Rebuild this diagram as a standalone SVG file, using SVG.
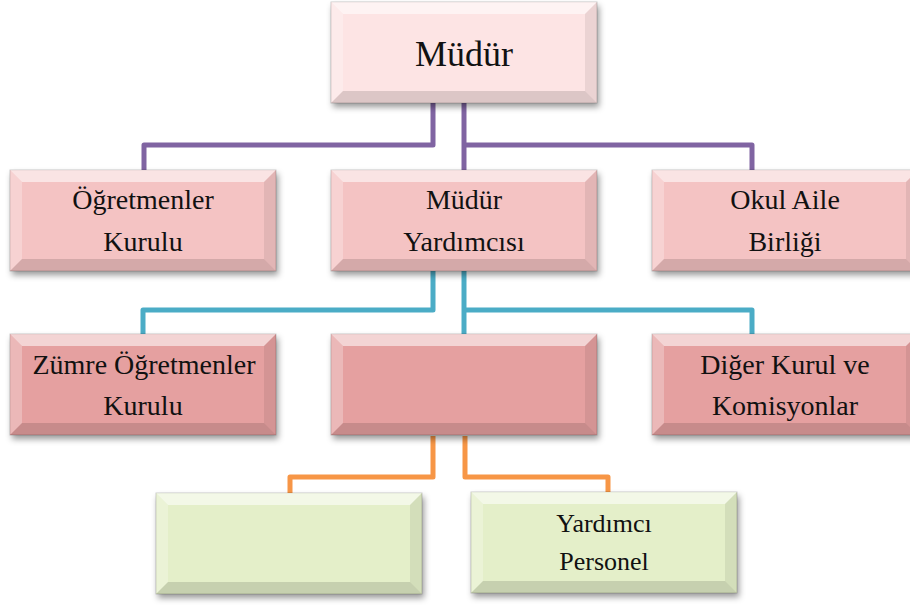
<svg xmlns="http://www.w3.org/2000/svg" xmlns:xlink="http://www.w3.org/1999/xlink" width="910" height="605" viewBox="0 0 910 605">
<style>
.lbl{font-family:"Liberation Serif","Times New Roman",serif;fill:#111;text-anchor:middle}
.big{font-size:36px}
.mid{font-size:28px}
.sm{font-size:26px}
.box{stroke:#000;stroke-opacity:0.18;stroke-width:1;filter:url(#sh)}
.c1{fill:#FDE4E4}.c2{fill:#F4C3C3}.c3{fill:#E5A0A0}.c4{fill:#E4EFC9}
.ln{fill:none;stroke-width:5;stroke-linejoin:round}
.pu{stroke:#8064A2}.te{stroke:#4BACC6}.or{stroke:#F79646}
</style>
<defs>
<filter id="sh" x="-10%" y="-10%" width="130%" height="140%">
<feDropShadow dx="2" dy="4" stdDeviation="3" flood-color="#000" flood-opacity="0.4"/>
</filter>
<g id="bevel">
<polygon points="0,0 266,0 254,12 12,12" fill="#fff" fill-opacity="0.55"/>
<polygon points="0,0 12,12 12,89 0,101" fill="#fff" fill-opacity="0.25"/>
<polygon points="266,0 266,101 254,89 254,12" fill="#000" fill-opacity="0.07"/>
<polygon points="0,101 12,89 254,89 266,101" fill="#000" fill-opacity="0.13"/>
</g>
</defs>
<g id="connectors">
<path class="ln pu" d="M433,103 V145 H144 V170"/>
<path class="ln pu" d="M464,103 V170"/>
<path class="ln pu" d="M464,145 H752 V170"/>
<path class="ln te" d="M433,271 V310 H143 V334"/>
<path class="ln te" d="M464,271 V334"/>
<path class="ln te" d="M464,310 H752 V334"/>
<path class="ln or" d="M433,436 V477 H290 V493"/>
<path class="ln or" d="M465,436 V477 H608 V492"/>
</g>
<g id="mudur">
<rect class="box c1" x="331" y="2" width="266" height="101"/>
<use xlink:href="#bevel" x="331" y="2"/>
<text class="lbl big" x="464" y="66">Müdür</text>
</g>
<g id="ogretmenler-kurulu">
<rect class="box c2" x="10" y="170" width="266" height="101"/>
<use xlink:href="#bevel" x="10" y="170"/>
<text class="lbl mid" x="143" y="209">Öğretmenler</text>
<text class="lbl mid" x="143" y="251">Kurulu</text>
</g>
<g id="mudur-yardimcisi">
<rect class="box c2" x="331" y="170" width="266" height="101"/>
<use xlink:href="#bevel" x="331" y="170"/>
<text class="lbl mid" x="464" y="209">Müdür</text>
<text class="lbl mid" x="464" y="251">Yardımcısı</text>
</g>
<g id="okul-aile">
<rect class="box c2" x="652" y="170" width="266" height="101"/>
<use xlink:href="#bevel" x="652" y="170"/>
<text class="lbl mid" x="785" y="209">Okul Aile</text>
<text class="lbl mid" x="785" y="251">Birliği</text>
</g>
<g id="zumre">
<rect class="box c3" x="10" y="334" width="266" height="101"/>
<use xlink:href="#bevel" x="10" y="334"/>
<text class="lbl mid" x="144" y="374">Zümre Öğretmenler</text>
<text class="lbl mid" x="143" y="415">Kurulu</text>
</g>
<g id="orta">
<rect class="box c3" x="331" y="334" width="266" height="101"/>
<use xlink:href="#bevel" x="331" y="334"/>
</g>
<g id="diger">
<rect class="box c3" x="652" y="334" width="266" height="101"/>
<use xlink:href="#bevel" x="652" y="334"/>
<text class="lbl mid" x="785" y="374">Diğer Kurul ve</text>
<text class="lbl mid" x="785" y="415">Komisyonlar</text>
</g>
<g id="yesil-sol">
<rect class="box c4" x="156" y="493" width="266" height="101"/>
<use xlink:href="#bevel" x="156" y="493"/>
</g>
<g id="yardimci-personel">
<rect class="box c4" x="471" y="492" width="266" height="101"/>
<use xlink:href="#bevel" x="471" y="492"/>
<text class="lbl sm" x="604" y="532">Yardımcı</text>
<text class="lbl sm" x="604" y="570">Personel</text>
</g>
</svg>
